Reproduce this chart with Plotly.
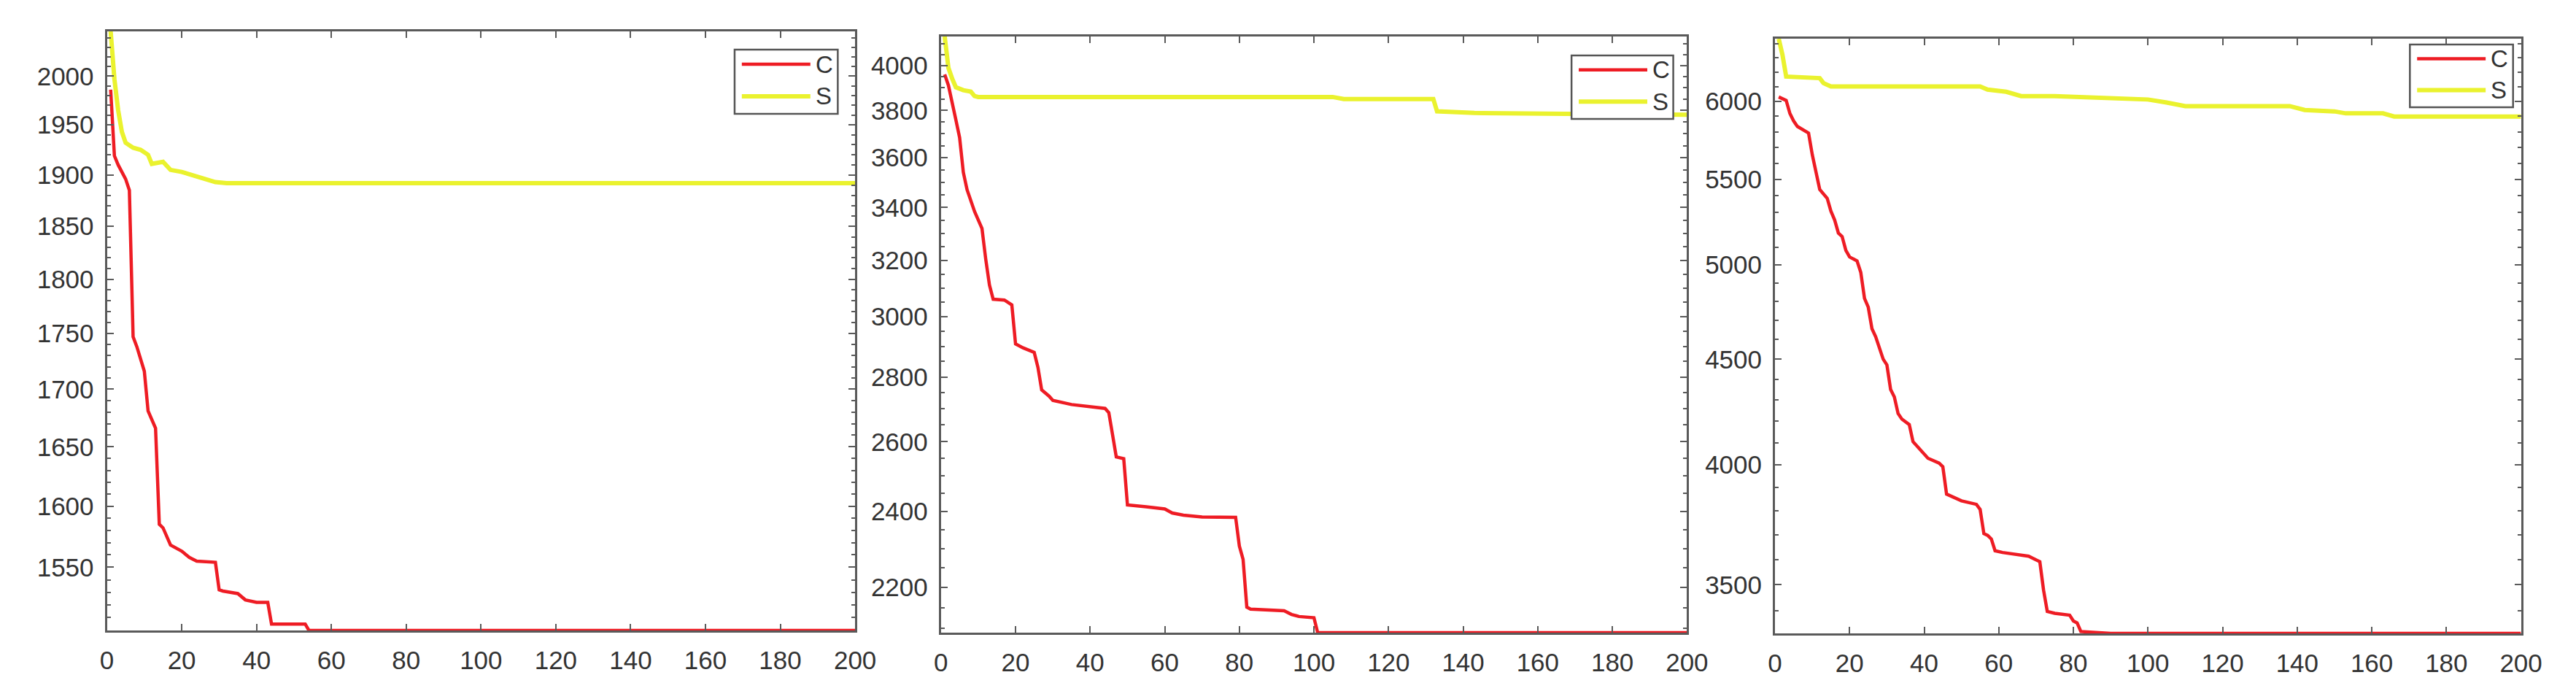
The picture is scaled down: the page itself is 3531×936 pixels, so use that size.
import numpy as np
import plotly.graph_objects as go

# x ticks shared by all three panels
x_ticks = [0, 20, 40, 60, 80, 100, 120, 140, 160, 180, 200]
series_names = ['C', 'S']

# panel 1
c1_x = [1, 2, 3, 5, 6, 7, 8, 10, 11, 13, 14, 15, 17, 20, 22, 24, 29, 30, 31, 35, 37, 40, 43, 44, 53, 54, 200]
c1_y = [1986, 1919, 1910, 1896, 1885, 1747, 1738, 1716, 1681, 1666, 1585, 1582, 1568, 1563, 1558, 1555, 1554,
        1532, 1531, 1529, 1524, 1522, 1522, 1505, 1505, 1500, 1500]
s1_x = [1, 2, 3, 4, 5, 7, 9, 11, 12, 15, 16, 17, 20, 23, 26, 29, 32, 200]
s1_y = [2047, 1997, 1965, 1943, 1932, 1927, 1925, 1920, 1911, 1913, 1909, 1905, 1903, 1900, 1896, 1893, 1892, 1892]
y1_ticks = [1550, 1600, 1650, 1700, 1750, 1800, 1850, 1900, 1950, 2000]

# panel 2
c2_x = [1, 2, 4, 5, 6, 7, 9, 10, 11, 12, 13, 14, 17, 19, 20, 22, 25, 26, 27, 29, 30, 35, 44, 45, 46, 47, 49,
        50, 55, 60, 62, 65, 70, 79, 80, 81, 82, 83, 92, 94, 96, 100, 101, 200]
c2_y = [3960, 3911, 3759, 3684, 3540, 3470, 3385, 3352, 3319, 3205, 3111, 3061, 3058, 3041, 2908, 2895, 2880,
        2831, 2759, 2739, 2726, 2713, 2701, 2688, 2613, 2555, 2550, 2418, 2413, 2407, 2396, 2390, 2385, 2384,
        2307, 2272, 2151, 2146, 2142, 2133, 2128, 2125, 2089, 2089]
s2_x = [1, 2, 3, 4, 6, 8, 9, 10, 105, 108, 132, 133, 143, 200]
s2_y = [4136, 3990, 3941, 3902, 3889, 3883, 3863, 3859, 3859, 3850, 3850, 3796, 3789, 3781]
y2_ticks = [2200, 2400, 2600, 2800, 3000, 3200, 3400, 3600, 3800, 4000]

# panel 3
c3_x = [1, 2, 3, 4, 5, 6, 8, 9, 10, 11, 12, 14, 15, 16, 17, 18, 19, 20, 22, 23, 24, 25, 26, 27, 29, 30, 31,
        32, 33, 34, 36, 37, 39, 41, 44, 45, 46, 47, 50, 54, 55, 56, 57, 58, 59, 61, 68, 70, 71, 72, 73, 75,
        79, 80, 81, 82, 90, 200]
c3_y = [6029, 6020, 6006, 5919, 5870, 5834, 5808, 5791, 5653, 5545, 5438, 5385, 5308, 5256, 5180, 5160, 5081,
        5044, 5022, 4958, 4816, 4770, 4656, 4614, 4501, 4472, 4351, 4315, 4236, 4210, 4184, 4105, 4065, 4030,
        4008, 3992, 3872, 3865, 3843, 3828, 3806, 3705, 3698, 3683, 3635, 3628, 3613, 3598, 3591, 3479, 3397,
        3390, 3383, 3361, 3354, 3322, 3315, 3315]
s3_x = [1, 2, 3, 12, 13, 15, 55, 57, 62, 66, 75, 90, 100, 105, 110, 138, 142, 150, 153, 163, 166, 200]
s3_y = [6434, 6320, 6168, 6157, 6123, 6100, 6100, 6079, 6064, 6035, 6035, 6020, 6012, 5992, 5968, 5968, 5942,
        5933, 5920, 5920, 5899, 5899]
y3_ticks = [3500, 4000, 4500, 5000, 5500, 6000]

panels = [
    (c1_x, c1_y, s1_x, s1_y, y1_ticks, 10),
    (c2_x, c2_y, s2_x, s2_y, y2_ticks, 50),
    (c3_x, c3_y, s3_x, s3_y, y3_ticks, 100),
]

W, H = 3531, 936
# plot areas in pixels: left, right, top, bottom
boxes = [(130, 1167, 35, 856), (1286, 2320, 42, 859), (2442, 3476, 45, 860)]
# legend boxes in pixels: left, right, top, bottom
legend_boxes = [(1000, 1143, 60, 148), (2160, 2301, 68, 155), (3322, 3465, 53, 139)]

RED = '#ee1c24'
YELLOW = '#eaf22e'
AXIS = '#5a5a5a'
TEXT = '#333333'
colors = [RED, YELLOW]
widths = [4.5, 6]

fig = go.Figure()
layout = dict(width=W, height=H, margin=dict(l=0, r=0, t=0, b=0),
              paper_bgcolor='white', plot_bgcolor='white', showlegend=False,
              font=dict(family='Liberation Sans, Arial', size=35, color=TEXT))
shapes = []
annotations = []

def px(x, y):
    return x / W, 1 - y / H

for i, (cx, cy, sx, sy, yt, minor_step) in enumerate(panels):
    n = '' if i == 0 else str(i + 1)
    for k, (xs, ys) in enumerate([(cx, cy), (sx, sy)]):
        fig.add_trace(go.Scatter(x=xs, y=ys, mode='lines', name=series_names[k],
                                 line=dict(color=colors[k], width=widths[k]),
                                 xaxis='x' + n, yaxis='y' + n))
    l, r, t, b = boxes[i]
    lo, hi = min(cy), max(sy)
    layout['xaxis' + n] = dict(domain=[l / W, r / W], anchor='y' + n, range=[0, 200],
                               tickvals=x_ticks, ticks='inside', ticklen=9, tickwidth=2,
                               tickcolor=AXIS, showline=True, linecolor=AXIS, linewidth=3,
                               mirror='ticks', showgrid=False, zeroline=False,
                               ticklabelstandoff=8)
    layout['yaxis' + n] = dict(domain=[1 - b / H, 1 - t / H], anchor='x' + n, type='log',
                               range=[np.log10(lo), np.log10(hi)],
                               tickvals=yt, ticktext=[str(v) for v in yt],
                               ticks='inside', ticklen=9, tickwidth=2, tickcolor=AXIS,
                               minor=dict(tickvals=list(np.arange(yt[0] - 5 * minor_step, hi, minor_step)),
                                          ticks='inside', ticklen=5, tickwidth=1.5, tickcolor=AXIS),
                               showline=True, linecolor=AXIS, linewidth=3, mirror='ticks',
                               showgrid=False, zeroline=False, ticklabelstandoff=8)

    # legend box drawn like the MATLAB one
    bl, br, bt, bb = legend_boxes[i]
    x0, y0 = px(bl, bb)
    x1, y1 = px(br, bt)
    shapes.append(dict(type='rect', xref='paper', yref='paper', x0=x0, y0=y0, x1=x1, y1=y1,
                       line=dict(color='#555555', width=2.5), fillcolor='white', layer='above'))
    row_h = (bb - bt) / 2
    for k in range(2):
        yy = bt + row_h * (k + 0.5) - 2
        lx0, ly = px(bl + 10, yy)
        lx1, _ = px(bl + 105, yy)
        shapes.append(dict(type='line', xref='paper', yref='paper', x0=lx0, x1=lx1, y0=ly, y1=ly,
                           line=dict(color=colors[k], width=widths[k]), layer='above'))
        tx, ty = px(bl + 110, yy)
        annotations.append(dict(text=series_names[k], xref='paper', yref='paper', x=tx, y=ty,
                                xanchor='left', yanchor='middle', showarrow=False,
                                font=dict(size=33, color=TEXT)))

layout['shapes'] = shapes
layout['annotations'] = annotations
fig.update_layout(**layout)
fig.write_html("out.html")
